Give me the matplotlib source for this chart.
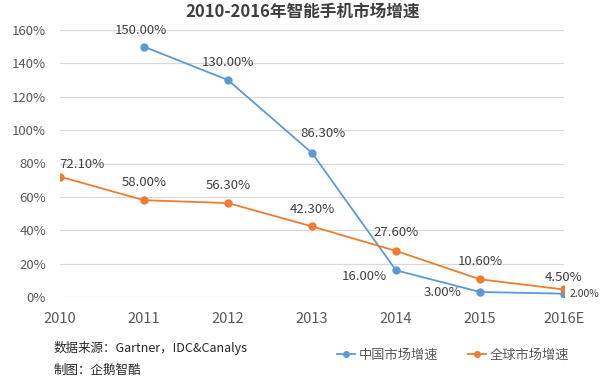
import matplotlib.pyplot as plt
import numpy as np

plt.rcParams['font.family'] = ['Noto Sans CJK SC', 'DejaVu Sans']

# dane
years = [2010, 2011, 2012, 2013, 2014, 2015, 2016]
year_labels = ['2010', '2011', '2012', '2013', '2014', '2015', '2016E']
china_years = [2011, 2012, 2013, 2014, 2015, 2016]
china = [150.0, 130.0, 86.3, 16.0, 3.0, 2.0]
world = [72.1, 58.0, 56.3, 42.3, 27.6, 10.6, 4.5]

blue = '#5B9BD5'
orange = '#ED7D31'
grey = '#595959'

fig = plt.figure(figsize=(6.05, 3.81), dpi=100)
ax = fig.add_axes([60 / 605, 1 - 297 / 381, 504 / 605, 267 / 381])

ax.plot(china_years, china, color=blue, marker='o', markersize=5, lw=1.3, label='中国市场增速')
ax.plot(years, world, color=orange, marker='o', markersize=5, lw=1.3, label='全球市场增速')

ax.set_xlim(2010, 2016)
ax.set_ylim(0, 160)
ax.set_yticks(np.arange(0, 161, 20))
ax.set_yticklabels([f'{v}%' for v in range(0, 161, 20)], fontsize=9.5, color=grey)
ax.set_xticks(years)
ax.set_xticklabels(year_labels, fontsize=10.5, color=grey)
ax.tick_params(length=0)
ax.tick_params(axis='y', pad=10)
ax.tick_params(axis='x', pad=11)
ax.grid(axis='y', color='#D9D9D9', lw=0.9)
ax.set_axisbelow(True)
for s in ax.spines.values():
    s.set_visible(False)

# etykiety danych
china_off = [(-2, 12), (0, 12.5), (8, 14), (-23, -4.5), (-27, -0.5), (15, 0)]
for x, y, off in zip(china_years, china, china_off):
    fs = 7.5 if x == 2016 else 9.5
    ax.annotate(f'{y:.2f}%', (x, y), xytext=off, textcoords='offset points',
                ha='center', va='center', fontsize=fs, color='#404040')
world_off = [(16, 9), (0, 12.5), (0, 12.5), (0, 12.5), (0, 13), (0, 13), (0, 8.5)]
for x, y, off in zip(years, world, world_off):
    ax.annotate(f'{y:.2f}%', (x, y), xytext=off, textcoords='offset points',
                ha='center', va='center', fontsize=9.5, color='#404040')

fig.text(0.5, 1 - 12 / 381, '2010-2016年智能手机市场增速', ha='center', va='center',
         fontsize=12, fontweight='bold', color='#404040')
fig.text(54 / 605, 1 - 348 / 381, '数据来源：Gartner，IDC&Canalys', ha='left', va='center',
         fontsize=9, color='#262626')
fig.text(54 / 605, 1 - 370 / 381, '制图：企鹅智酷', ha='left', va='center',
         fontsize=9, color='#262626')

fig.legend(loc='center', bbox_to_anchor=(453 / 605, 1 - 355 / 381), ncol=2, frameon=False,
           fontsize=9.5, labelcolor=grey, handlelength=1.4, handletextpad=0.3,
           columnspacing=2.2, markerscale=0.8)

plt.savefig('out.png', dpi=100)
